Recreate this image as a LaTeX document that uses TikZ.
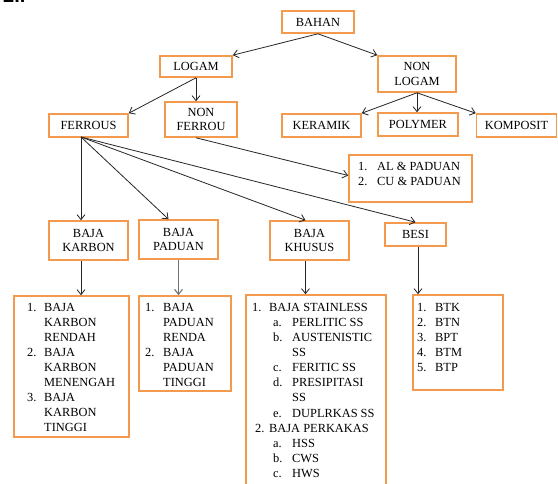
\documentclass[tikz,border=0pt]{standalone}
\usepackage{fontspec}
\setmainfont{Liberation Serif}
\newfontfamily\sansf{Liberation Sans}
\usetikzlibrary{arrows.meta}
\definecolor{boxorange}{HTML}{F39A4E}
\begin{document}
\begin{tikzpicture}[x=1pt,y=-1pt,
 bx/.style={draw=boxorange, line width=1.6pt, inner sep=0pt, align=center, font=\fontsize{12.4}{14.3}\selectfont},
 ar/.style={draw=black!85, line width=0.8pt, -{Straight Barb[length=5pt,width=8pt]}},
 lt/.style={anchor=west, inner sep=0pt, text height=8.7pt, text depth=0pt, font=\fontsize{12.4}{13}\selectfont}]
\useasboundingbox[fill=white] (0,0) rectangle (558,484);
\node[anchor=base west, inner sep=0pt, font=\sansf\bfseries\fontsize{20}{22}\selectfont] (hdr) at (3,3) {2..};
% boxes
\node[bx, minimum width=72pt, minimum height=22pt] (bahan) at (318,22) {BAHAN};
\node[bx, minimum width=72pt, minimum height=21pt] (logam) at (196,66.5) {LOGAM};
\node[bx, minimum width=78pt, minimum height=36pt] (nonlogam) at (417,74) {NON\\LOGAM};
\node[bx, minimum width=79pt, minimum height=23pt] (ferrous) at (88.5,125.5) {FERROUS};
\node[bx, minimum width=72pt, minimum height=35pt] (nonferrou) at (201,119.5) {NON\\FERROU};
\node[bx, minimum width=79pt, minimum height=23pt] (keramik) at (321.5,125.5) {KERAMIK};
\node[bx, minimum width=80pt, minimum height=23pt] (polymer) at (418,124.5) {POLYMER};
\node[bx, minimum width=80pt, minimum height=23pt] (komposit) at (516.5,125.5) {KOMPOSIT};
\node[bx, minimum width=123pt, minimum height=47pt] (al) at (410.5,178.5) {};
\node[bx, minimum width=79pt, minimum height=39pt] (karbon) at (88.5,240.5) {BAJA\\KARBON};
\node[bx, minimum width=79pt, minimum height=39pt] (paduan) at (178.5,239.5) {BAJA\\PADUAN};
\node[bx, minimum width=79pt, minimum height=39pt] (khusus) at (309.5,240.5) {BAJA\\KHUSUS};
\node[bx, minimum width=61pt, minimum height=23pt] (besi) at (415.5,234.5) {BESI};
\node[bx, minimum width=115pt, minimum height=141pt] (lkarbon) at (71.5,366.5) {};
\node[bx, minimum width=92pt, minimum height=95pt] (lpaduan) at (185,343.5) {};
\node[bx, minimum width=140pt, minimum height=201pt] (lkhusus) at (316,395.5) {};
\node[bx, minimum width=90pt, minimum height=95pt] (lbesi) at (458,342.5) {};
% AL list
\node[lt] (al1n) at (358,166) {1.};
\node[lt] (al1t) at (377,166) {AL \& PADUAN};
\node[lt] (al2n) at (358,181) {2.};
\node[lt] (al2t) at (377,181) {CU \& PADUAN};
% karbon list
\foreach \t [count=\i] in {BAJA,KARBON,RENDAH,BAJA,KARBON,MENENGAH,BAJA,KARBON,TINGGI}
  \node[lt] (lkt\i) at (44,{307+15.05*(\i-1)}) {\t};
\node[lt] (lkn1) at (27,307) {1.};
\node[lt] (lkn2) at (27,352.15) {2.};
\node[lt] (lkn3) at (27,397.3) {3.};
% paduan list
\foreach \t [count=\i] in {BAJA,PADUAN,RENDA,BAJA,PADUAN,TINGGI}
  \node[lt] (lpt\i) at (163,{307+15.05*(\i-1)}) {\t};
\node[lt] (lpn1) at (145,307) {1.};
\node[lt] (lpn2) at (145,352.15) {2.};
% khusus list
\node[lt] (kn1) at (252,307) {1.};
\node[lt] (kt1) at (269,307) {BAJA STAINLESS};
\foreach \n/\t/\r in {a./PERLITIC SS/2, b./AUSTENISTIC/3, c./FERITIC SS/5, d./PRESIPITASI/6, e./DUPLRKAS SS/8, a./HSS/10, b./CWS/11, c./HWS/12}{
  \node[lt] (ksn\r) at (273,{307+15.1*(\r-1)}) {\n};
  \node[lt] (kst\r) at (292,{307+15.1*(\r-1)}) {\t};
}
\node[lt] (kst4) at (292,{307+15.1*3}) {SS};
\node[lt] (kst7) at (292,{307+15.1*6}) {SS};
\node[lt] (kn9) at (255,{307+15.1*8}) {2.};
\node[lt] (kt9) at (269,{307+15.1*8}) {BAJA PERKAKAS};
% besi list
\foreach \t [count=\i] in {BTK,BTN,BPT,BTM,BTP}{
  \node[lt] (lbn\i) at (417,{307+15.1*(\i-1)}) {\i.};
  \node[lt] (lbt\i) at (435,{307+15.1*(\i-1)}) {\t};
}
% connectors
\coordinate (fs) at (81,137);
\draw[ar] (bahan.south) -- (logam.north east);
\draw[ar] (bahan.south) -- (nonlogam.north west);
\draw[ar] (logam.south) -- (ferrous.north east);
\draw[ar] (logam.south) -- (logam.south |- nonferrou.north);
\draw[ar] (nonlogam.south) -- (keramik.north east);
\draw[ar] (nonlogam.south) -- (nonlogam.south |- polymer.north);
\draw[ar] (nonlogam.south) -- (komposit.north west);
\draw[ar] (logam.south |- nonferrou.south) -- ([yshift=3pt]al.west);
\draw[ar] (fs) -- (fs |- karbon.north);
\draw[ar] (fs) -- ([xshift=-10pt]paduan.north);
\draw[ar] (fs) -- ([xshift=-4pt]khusus.north);
\draw[ar] (fs) -- (besi.north);
\draw[ar] (fs |- karbon.south) -- (fs |- lkarbon.north);
\draw[ar, draw=black!55, line width=1.1pt] (paduan.south) -- (paduan.south |- lpaduan.north);
\draw[ar] ([xshift=-4pt]khusus.south) -- ([xshift=-4pt]khusus.south |- lkhusus.north);
\draw[ar] ([xshift=2.5pt]besi.south) -- ([xshift=2.5pt]besi.south |- lbesi.north);
\end{tikzpicture}
\end{document}
